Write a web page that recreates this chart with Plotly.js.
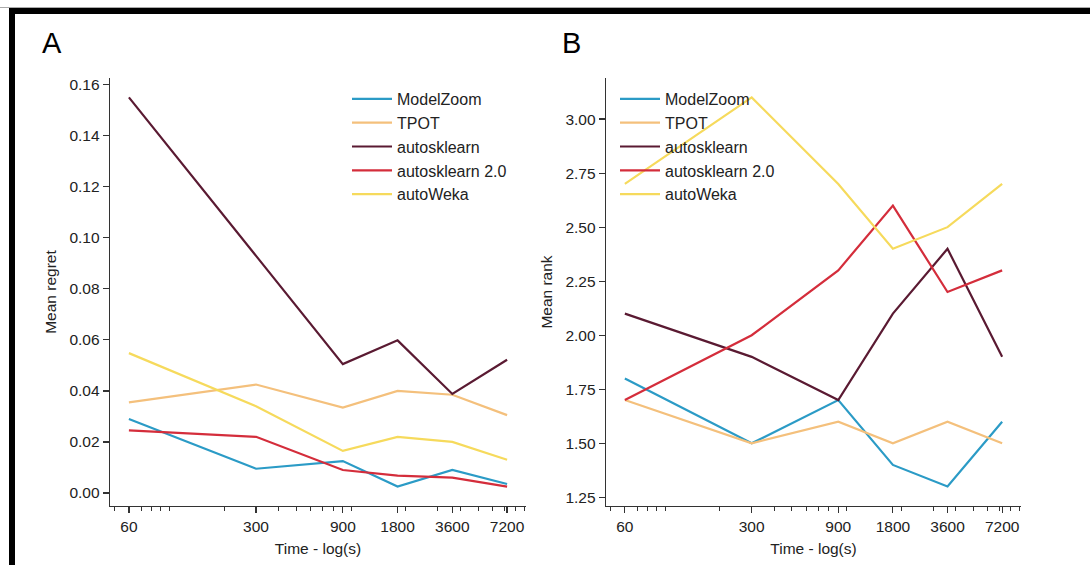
<!DOCTYPE html>
<html>
<head>
<meta charset="utf-8">
<script src="https://cdn.plot.ly/plotly-3.0.1.min.js"></script>
<style>
html,body{margin:0;padding:0;background:#fff;}
#chart{width:1090px;height:565px;}
</style>
</head>
<body>
<div id="chart"></div>
<script>
// ---- data ----
const times = [60, 300, 900, 1800, 3600, 7200];
const tickLabels = ["60", "300", "900", "1800", "3600", "7200"];
const seriesNames = ["ModelZoom", "TPOT", "autosklearn", "autosklearn 2.0", "autoWeka"];
const seriesColors = ["#2b9bc6", "#f4c07c", "#5a1a32", "#d42d3b", "#f6da5c"];

// Panel A: mean regret
const regretModelZoom   = [0.029, 0.0095, 0.0125, 0.0025, 0.009, 0.0035];
const regretTPOT        = [0.0355, 0.0425, 0.0335, 0.040, 0.0385, 0.0305];
const regretAutosklearn = [0.155, 0.093, 0.0505, 0.0598, 0.0388, 0.0522];
const regretAutosk2     = [0.0245, 0.022, 0.009, 0.0068, 0.006, 0.0025];
const regretAutoWeka    = [0.0548, 0.034, 0.0165, 0.022, 0.020, 0.013];

// Panel B: mean rank
const rankModelZoom   = [1.8, 1.5, 1.7, 1.4, 1.3, 1.6];
const rankTPOT        = [1.7, 1.5, 1.6, 1.5, 1.6, 1.5];
const rankAutosklearn = [2.1, 1.9, 1.7, 2.1, 2.4, 1.9];
const rankAutosk2     = [1.7, 2.0, 2.3, 2.6, 2.2, 2.3];
const rankAutoWeka    = [2.7, 3.1, 2.7, 2.4, 2.5, 2.7];

const regretSeries = [regretModelZoom, regretTPOT, regretAutosklearn, regretAutosk2, regretAutoWeka];
const rankSeries = [rankModelZoom, rankTPOT, rankAutosklearn, rankAutosk2, rankAutoWeka];

// ---- build ----
const W = 1090, H = 565;
const traces = [];
seriesNames.forEach((name, i) => {
  traces.push({x: times, y: regretSeries[i], name: name, type: 'scatter', mode: 'lines',
    line: {color: seriesColors[i], width: 2.2}, xaxis: 'x', yaxis: 'y', legend: 'legend'});
});
seriesNames.forEach((name, i) => {
  traces.push({x: times, y: rankSeries[i], name: name, type: 'scatter', mode: 'lines',
    line: {color: seriesColors[i], width: 2.2}, xaxis: 'x2', yaxis: 'y2', legend: 'legend2'});
});

// minor log ticks (axis decoration)
const minorTicks = [];
[10, 100, 1000].forEach(d => { for (let k = 1; k <= 9; k++) minorTicks.push(d * k); });

const lx0 = Math.log10(times[0]), lx1 = Math.log10(times[times.length - 1]);
const pad = (lx1 - lx0) * 0.05;
const fam = '"Liberation Sans", Arial, sans-serif';
const font = {family: fam, size: 15.5, color: '#222'};

function xAxis(domain, anchor) {
  return {
    type: 'log', domain: domain, anchor: anchor, range: [lx0 - pad, lx1 + pad],
    tickvals: times, ticktext: tickLabels, ticks: 'outside', ticklen: 6, tickwidth: 1.2,
    tickcolor: '#333', showline: true, linecolor: '#333', linewidth: 1.3,
    showgrid: false, zeroline: false, tickfont: font,
    minor: {tickvals: minorTicks, ticks: 'outside', ticklen: 3.5, tickwidth: 1, tickcolor: '#333', showgrid: false},
    title: {text: 'Time - log(s)', font: font, standoff: 9}
  };
}
function yAxis(domain, anchor, range, dtick, fmt, title) {
  return {
    domain: domain, anchor: anchor, range: range, dtick: dtick, tick0: 0, tickformat: fmt,
    ticks: 'outside', ticklen: 6, tickwidth: 1.2, tickcolor: '#333',
    showline: true, linecolor: '#333', linewidth: 1.3, showgrid: false, zeroline: false,
    tickfont: font, title: {text: title, font: font, standoff: 9}
  };
}
const yDom = [1 - 506 / H, 1 - 78 / H];
const legFont = {family: fam, size: 16, color: '#222'};

const layout = {
  width: W, height: H, margin: {l: 0, r: 0, t: 0, b: 0},
  paper_bgcolor: '#fff', plot_bgcolor: 'rgba(0,0,0,0)', showlegend: true,
  font: font,
  xaxis: xAxis([110 / W, 526 / W], 'y'),
  yaxis: yAxis(yDom, 'x', [-0.0051, 0.1626], 0.02, '.2f', 'Mean regret'),
  xaxis2: xAxis([606 / W, 1021 / W], 'y2'),
  yaxis2: yAxis(yDom, 'x2', [1.21, 3.19], 0.25, '.2f', 'Mean rank'),
  legend: {x: 347 / W, y: 1 - 82 / H, xanchor: 'left', yanchor: 'top', bgcolor: 'rgba(0,0,0,0)',
    font: legFont, tracegroupgap: 0, itemwidth: 40},
  legend2: {x: 615 / W, y: 1 - 82 / H, xanchor: 'left', yanchor: 'top', bgcolor: 'rgba(0,0,0,0)',
    font: legFont, tracegroupgap: 0, itemwidth: 40},
  annotations: [
    {text: 'A', xref: 'paper', yref: 'paper', x: 40 / W, y: 1 - 43 / H, xanchor: 'left', yanchor: 'middle',
     showarrow: false, font: {family: fam, size: 29, color: '#000'}},
    {text: 'B', xref: 'paper', yref: 'paper', x: 560 / W, y: 1 - 43 / H, xanchor: 'left', yanchor: 'middle',
     showarrow: false, font: {family: fam, size: 29, color: '#000'}}
  ],
  shapes: [
    {type: 'rect', xref: 'paper', yref: 'paper', x0: 0, x1: 1, y0: 1 - 8 / H, y1: 1 - 7 / H,
     fillcolor: '#aaa', line: {width: 0}, layer: 'below'},
    {type: 'rect', xref: 'paper', yref: 'paper', x0: 9 / W, x1: 1, y0: 1 - 14 / H, y1: 1 - 8 / H,
     fillcolor: '#000', line: {width: 0}},
    {type: 'rect', xref: 'paper', yref: 'paper', x0: 9 / W, x1: 15 / W, y0: 0, y1: 1 - 8 / H,
     fillcolor: '#000', line: {width: 0}}
  ]
};

Plotly.newPlot('chart', traces, layout, {staticPlot: true, displayModeBar: false});
</script>
</body>
</html>
